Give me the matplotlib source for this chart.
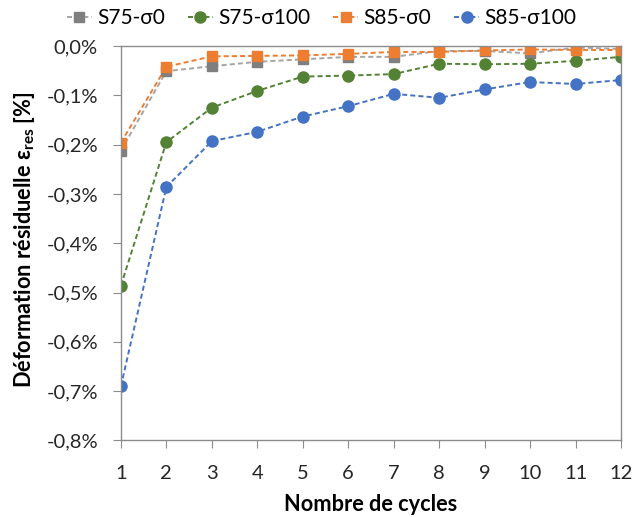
import matplotlib
matplotlib.use("Agg")
import matplotlib.pyplot as plt
from matplotlib.ticker import FuncFormatter

cycles = [1, 2, 3, 4, 5, 6, 7, 8, 9, 10, 11, 12]

# residual strain in %
s75_s0 = [-0.212, -0.051, -0.041, -0.032, -0.027, -0.022, -0.022, -0.010, -0.010, -0.015, -0.003, -0.006]
s75_s100 = [-0.486, -0.195, -0.125, -0.091, -0.062, -0.060, -0.057, -0.036, -0.037, -0.036, -0.030, -0.022]
s85_s0 = [-0.196, -0.042, -0.021, -0.020, -0.019, -0.016, -0.012, -0.012, -0.009, -0.007, -0.008, -0.008]
s85_s100 = [-0.690, -0.286, -0.193, -0.174, -0.143, -0.122, -0.097, -0.105, -0.088, -0.073, -0.077, -0.069]

labels = ["S75-σ0", "S75-σ100", "S85-σ0", "S85-σ100"]

plt.rcParams['font.family'] = ['Lato', 'DejaVu Sans']

fig = plt.figure(figsize=(6.33, 5.17), dpi=100)
ax = fig.add_axes([0.191, 0.148, 0.790, 0.763])

dash = (2.6, 1.6)
ax.plot(cycles, s75_s0, ls='--', dashes=dash, lw=1.4, color='#A5A5A5', marker='s', ms=7,
        mfc='#7F7F7F', mec='#7F7F7F', label=labels[0])
ax.plot(cycles, s75_s100, ls='--', dashes=dash, lw=1.4, color='#548235', marker='o', ms=8,
        label=labels[1])
ax.plot(cycles, s85_s0, ls='--', dashes=dash, lw=1.4, color='#ED7D31', marker='s', ms=7,
        label=labels[2])
ax.plot(cycles, s85_s100, ls='--', dashes=dash, lw=1.4, color='#4472C4', marker='o', ms=8,
        label=labels[3])

ax.set_xlim(1, 12)
ax.set_ylim(-0.8, 0.0)
ax.set_xticks(cycles)
ax.set_yticks([-0.8, -0.7, -0.6, -0.5, -0.4, -0.3, -0.2, -0.1, 0.0])
ax.yaxis.set_major_formatter(FuncFormatter(lambda v, p: ("%.1f%%" % v).replace('.', ',').replace('-0,0', '0,0')))

for s in ax.spines.values():
    s.set_color('#8C8C8C')
    s.set_linewidth(1.0)
ax.tick_params(axis='both', direction='out', length=6, color='#8C8C8C', labelsize=14.5,
               labelcolor='#262626')
ax.tick_params(axis='y', pad=10.5)
ax.tick_params(axis='x', pad=12)

ax.set_xlabel("Nombre de cycles", fontsize=15.7, fontweight='bold', va='baseline')
ax.xaxis.set_label_coords(0.5, -0.180)
ax.set_ylabel("Déformation résiduelle ε$_{\\mathregular{res}}$ [%]", fontsize=15.7, fontweight='bold',
              va='baseline')
ax.yaxis.set_label_coords(-0.18, 0.508)

fig.legend(loc='center', bbox_to_anchor=(0.508, 1 - 18 / 517), ncol=4, frameon=False, fontsize=15,
           handlelength=1.2, handletextpad=0.25, columnspacing=1.1, borderaxespad=0.0, borderpad=0.0)

fig.savefig("out.png", dpi=100)
